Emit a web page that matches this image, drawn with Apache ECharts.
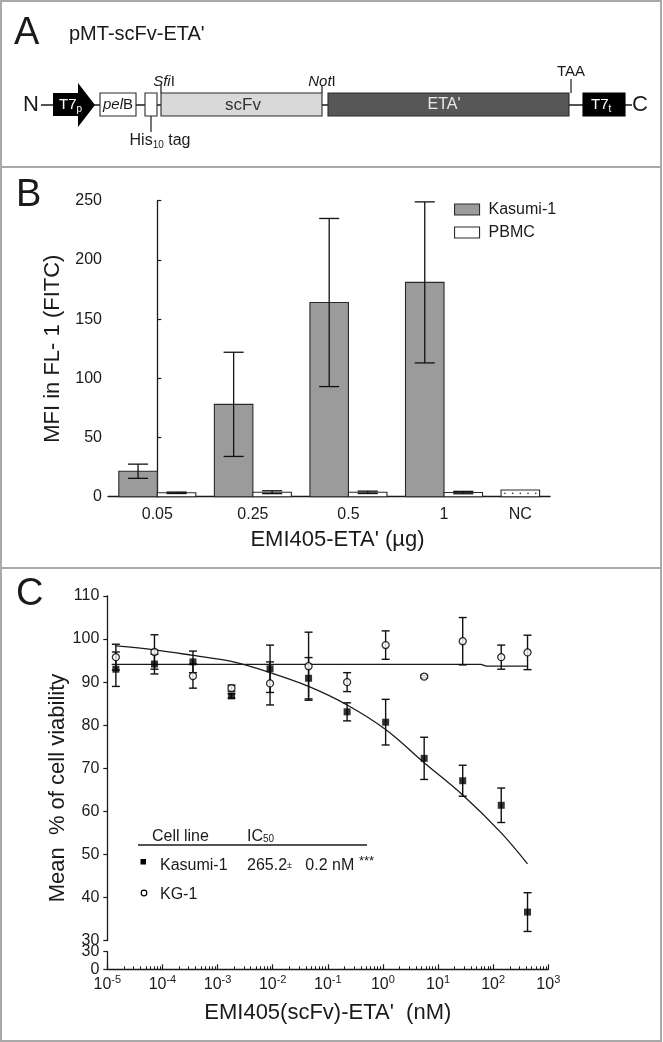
<!DOCTYPE html>
<html><head><meta charset="utf-8">
<script src="https://cdn.jsdelivr.net/npm/echarts@6/dist/echarts.min.js"></script>
<style>html,body{margin:0;padding:0;background:#fff}#c{width:663px;height:1042px}</style>
</head><body><div id="c"></div>
<script>
// ---------------- Panel B data ----------------
const doseLabels = ['0.05', '0.25', '0.5', '1', 'NC'];
const kasumiMFI = [21.5, 78, 164, 181];
const kasumiMFIErr = [6, 44, 71, 68];
const pbmcMFI = [3.3, 3.8, 3.7, 3.5];
const pbmcMFIErr = [0.6, 1.2, 1.0, 1.0];
const ncMFI = [5.7];
const mfiTicks = [0, 50, 100, 150, 200, 250];

// ---------------- Panel C data ----------------
const concNM = [1.43e-5, 7.17e-5, 3.58e-4, 1.79e-3, 8.96e-3, 0.0448, 0.224, 1.12, 5.6, 28, 140, 420];
const kasumiViab = [93.0, 94.2, 94.7, 86.8, 93.1, 90.9, 83.1, 80.7, 72.3, 67.1, 61.4, 36.6];
const kasumiSD = [4.0, 2.3, 2.5, 0.5, 5.5, 4.8, 2.1, 5.3, 4.9, 3.6, 4.0, 4.5];
const kg1Viab = [95.8, 97.0, 91.4, 88.6, 89.7, 93.7, 90.0, 98.6, 91.3, 99.5, 95.8, 96.9];
const kg1SD = [3.0, 4.0, 2.8, 0.7, 5.0, 7.9, 2.2, 3.3, 0.3, 5.5, 2.8, 4.0];
const kasumiFit = [98.4, 97.5, 96.2, 94.8, 92.2, 89.0, 84.7, 79.0, 71.3, 63.8, 55.0, 47.8];
const kg1FitConc = [1.2e-5, 60, 75, 420];
const kg1Fit = [94.1, 94.1, 93.7, 93.7];
const viabTicksUpper = [30, 40, 50, 60, 70, 80, 90, 100, 110];
const viabTicksLower = [0, 30];
const decadeExp = [-5, -4, -3, -2, -1, 0, 1, 2, 3];

// ---------------- styling ----------------
const FF = '"Liberation Sans", Arial, Helvetica, sans-serif';
const INK = '#1a1a1a';
const BAR_W = 0.403, CAP_W = 0.21;

function barRenderer(side, fill, dotted) {
  return function (params, api) {
    const x = api.value(0), v = api.value(1), e = api.value(2);
    const xl = side === 'left' ? x - BAR_W : x;
    const p1 = api.coord([xl, v]);
    const p2 = api.coord([xl + BAR_W, 0]);
    const children = [{
      type: 'rect',
      shape: { x: p1[0], y: p1[1], width: p2[0] - p1[0], height: p2[1] - p1[1] },
      style: { fill: fill, stroke: '#2a2a2a', lineWidth: 1.1 }
    }];
    if (dotted) {
      const my = (p1[1] + p2[1]) / 2;
      for (let k = 0; k < 5; k++) {
        children.push({ type: 'circle', shape: { cx: p1[0] + (p2[0] - p1[0]) * (k + 0.5) / 5, cy: my, r: 0.8 }, style: { fill: '#333' } });
      }
    }
    if (e > 0) {
      const cx = (p1[0] + p2[0]) / 2;
      const hi = api.coord([xl, v + e])[1], lo = api.coord([xl, v - e])[1];
      const hw = api.size([CAP_W, 0])[0] / 2;
      const st = { stroke: '#111', lineWidth: 1.3 };
      children.push({ type: 'line', shape: { x1: cx, y1: hi, x2: cx, y2: lo }, style: st });
      children.push({ type: 'line', shape: { x1: cx - hw, y1: hi, x2: cx + hw, y2: hi }, style: st });
      children.push({ type: 'line', shape: { x1: cx - hw, y1: lo, x2: cx + hw, y2: lo }, style: st });
    }
    return { type: 'group', children: children };
  };
}

function errRenderer(params, api) {
  const x = api.value(0), v = api.value(1), e = api.value(2);
  const hi = api.coord([x, v + e]), lo = api.coord([x, v - e]);
  const hw = 4;
  const st = { stroke: '#111', lineWidth: 1.4 };
  return { type: 'group', children: [
    { type: 'line', shape: { x1: hi[0], y1: hi[1], x2: lo[0], y2: lo[1] }, style: st },
    { type: 'line', shape: { x1: hi[0] - hw, y1: hi[1], x2: hi[0] + hw, y2: hi[1] }, style: st },
    { type: 'line', shape: { x1: lo[0] - hw, y1: lo[1], x2: lo[0] + hw, y2: lo[1] }, style: st }
  ]};
}

// label positions for panel B (NC label sits over its single bar)
const doseLabelPos = doseLabels.map((d, i) => i < 4 ? i : i - BAR_W / 2);

function T(x, y, text, size, extra) {
  return { type: 'text', x: x, y: y, z: 10,
    style: Object.assign({ text: text, fontSize: size, fontFamily: FF, fill: INK, align: 'left', verticalAlign: 'middle' }, extra || {}) };
}
function R(x, y, w, h, fill, stroke) {
  return { type: 'rect', z: 5, shape: { x: x, y: y, width: w, height: h }, style: { fill: fill, stroke: stroke || '#2a2a2a', lineWidth: 1.1 } };
}
function L(x1, y1, x2, y2, w, color, dash) {
  return { type: 'line', z: 4, shape: { x1: x1, y1: y1, x2: x2, y2: y2 }, style: { stroke: color || INK, lineWidth: w || 1.2, lineDash: dash || null } };
}

const graphics = [
  // frame
  { type: 'rect', z: 1, shape: { x: 1, y: 1, width: 660, height: 1040 }, style: { fill: 'none', stroke: '#a9a9a9', lineWidth: 2 } },
  L(1, 167, 661, 167, 2, '#a9a9a9'),
  L(1, 568, 661, 568, 2, '#a9a9a9'),
  // panel letters
  T(14, 34, 'A', 38), T(16, 196, 'B', 38), T(16, 595, 'C', 38),
  // Panel A
  T(69, 34, "pMT-scFv-ETA'", 20),
  L(41, 105, 632, 105, 1.3),
  T(31, 105, 'N', 22, { align: 'center' }),
  { type: 'polygon', z: 5, shape: { points: [[53, 93], [78, 93], [78, 83], [95, 105], [78, 127], [78, 116], [53, 116]] }, style: { fill: '#000' } },
  T(59, 105, '{b|T7}{s|p}', 15, { fill: '#fff', rich: { b: { fontSize: 15, fill: '#fff', verticalAlign: 'middle', fontFamily: FF }, s: { fontSize: 10, fill: '#fff', verticalAlign: 'middle', padding: [9, 0, 0, 0], fontFamily: FF } } }),
  R(100, 93, 36, 23, '#fff'),
  T(118, 105, '{i|pel}{b|B}', 15, { align: 'center', rich: { i: { fontSize: 15, fontStyle: 'italic', verticalAlign: 'middle', fontFamily: FF, fill: INK }, b: { fontSize: 15, verticalAlign: 'middle', fontFamily: FF, fill: INK } } }),
  R(145, 93, 12, 23, '#fff'),
  L(151, 116, 151, 132, 1.2),
  T(160, 141, '{b|His}{s|10}{b| tag}', 16, { align: 'center', rich: { b: { fontSize: 16, verticalAlign: 'middle', fontFamily: FF, fill: INK }, s: { fontSize: 10, verticalAlign: 'middle', padding: [8, 0, 0, 0], fontFamily: FF, fill: INK } } }),
  R(161, 93, 161, 23, '#d9d9d9'),
  T(243, 105, 'scFv', 17, { align: 'center', fill: '#333' }),
  L(161, 85, 161, 93, 1.2),
  T(164, 82, '{i|Sfi}{b|I}', 15, { align: 'center', rich: { i: { fontSize: 15, fontStyle: 'italic', verticalAlign: 'middle', fontFamily: FF, fill: INK }, b: { fontSize: 15, verticalAlign: 'middle', fontFamily: FF, fill: INK } } }),
  L(322, 85, 322, 93, 1.2),
  T(322, 82, '{i|Not}{b|I}', 15, { align: 'center', rich: { i: { fontSize: 15, fontStyle: 'italic', verticalAlign: 'middle', fontFamily: FF, fill: INK }, b: { fontSize: 15, verticalAlign: 'middle', fontFamily: FF, fill: INK } } }),
  R(328, 93, 241, 23, '#575757'),
  T(444, 105, "ETA'", 16, { align: 'center', fill: '#e8e8e8' }),
  L(569.5, 94, 569.5, 115, 1.4, '#ffffff', [2, 2]),
  L(571, 79, 571, 93, 1.2),
  T(571, 72, 'TAA', 15, { align: 'center' }),
  R(583, 93, 42, 23, '#000', '#000'),
  T(591, 105, '{b|T7}{s|t}', 15, { rich: { b: { fontSize: 15, fill: '#fff', verticalAlign: 'middle', fontFamily: FF }, s: { fontSize: 10, fill: '#fff', verticalAlign: 'middle', padding: [9, 0, 0, 0], fontFamily: FF } } }),
  T(640, 105, 'C', 22, { align: 'center' }),
  // Panel C y title
  { type: 'text', x: 58, y: 788, rotation: Math.PI / 2, z: 10, style: { text: 'Mean  % of cell viability', fontSize: 22, fontFamily: FF, fill: INK, align: 'center', verticalAlign: 'middle' } },
  // Panel C inset table
  T(152, 837, 'Cell line', 16),
  T(247, 837, '{b|IC}{s|50}', 16, { rich: { b: { fontSize: 16, verticalAlign: 'middle', fontFamily: FF, fill: INK }, s: { fontSize: 10, verticalAlign: 'middle', padding: [4, 0, 0, 0], fontFamily: FF, fill: INK } } }),
  L(138, 845, 367, 845, 1.3),
  { type: 'rect', z: 6, shape: { x: 140.5, y: 859, width: 5.5, height: 5.5 }, style: { fill: '#000' } },
  T(160, 866, 'Kasumi-1', 16),
  T(247, 866, '{b|265.2}{pm|±}{b|   0.2 nM}', 16, { rich: { b: { fontSize: 16, verticalAlign: 'middle', fontFamily: FF, fill: INK }, pm: { fontSize: 9, verticalAlign: 'middle', fontFamily: FF, fill: INK } } }),
  T(359, 861, '***', 13),
  { type: 'circle', z: 6, shape: { cx: 144, cy: 893, r: 2.8 }, style: { fill: '#fff', stroke: '#000', lineWidth: 1.2 } },
  T(160, 895, 'KG-1', 16)
];

const axisLineStyle = { color: INK, width: 1.3 };
const tickLabel = { color: INK, fontSize: 16, fontFamily: FF };

const option = {
  animation: false,
  backgroundColor: '#fff',
  textStyle: { fontFamily: FF },
  grid: [
    { left: 108, right: 113, top: 200.7, bottom: 545.3, containLabel: false, outerBoundsMode: 'none' },
    { left: 107.3, right: 114.7, top: 596, bottom: 101.5, containLabel: false, outerBoundsMode: 'none' },
    { left: 107.3, right: 114.7, top: 951.7, bottom: 72.7, containLabel: false, outerBoundsMode: 'none' }
  ],
  xAxis: [
    { type: 'value', gridIndex: 0, min: -0.516, max: 4.109,
      axisLine: { show: true, lineStyle: axisLineStyle }, axisTick: { show: false }, splitLine: { show: false },
      axisLabel: Object.assign({ margin: 10, customValues: doseLabelPos,
        formatter: function (v) { let best = 0; doseLabelPos.forEach((p, i) => { if (Math.abs(p - v) < Math.abs(doseLabelPos[best] - v)) best = i; }); return doseLabels[best]; } }, tickLabel),
      name: "EMI405-ETA' (µg)", nameLocation: 'middle', nameGap: 32,
      nameTextStyle: { fontSize: 22, color: INK, fontFamily: FF, padding: [0, 0, 0, 17] } },
    { type: 'log', gridIndex: 1, logBase: 10, min: 1e-5, max: 1e3, show: false },
    { type: 'log', gridIndex: 2, logBase: 10, min: 1e-5, max: 1e3, splitNumber: 8,
      axisLine: { show: true, lineStyle: axisLineStyle },
      axisTick: { show: true, inside: true, length: 5, lineStyle: { color: INK, width: 1.2 } },
      minorTick: { show: true, splitNumber: 9, length: 3, lineStyle: { color: INK, width: 1 } },
      splitLine: { show: false }, minorSplitLine: { show: false },
      axisLabel: { margin: 5, color: INK, fontFamily: FF,
        formatter: function (v) { const e = Math.round(Math.log10(v)); return decadeExp.indexOf(e) >= 0 ? '{b|10}{p|' + e + '}' : ''; },
        rich: { b: { fontSize: 16, color: INK, fontFamily: FF, verticalAlign: 'middle' }, p: { fontSize: 11, color: INK, fontFamily: FF, verticalAlign: 'middle', padding: [0, 0, 9, 0] } } },
      name: "EMI405(scFv)-ETA'  (nM)", nameLocation: 'middle', nameGap: 33,
      nameTextStyle: { fontSize: 22, color: INK, fontFamily: FF } }
  ],
  yAxis: [
    { type: 'value', gridIndex: 0, min: mfiTicks[0], max: mfiTicks[mfiTicks.length - 1], interval: mfiTicks[1] - mfiTicks[0],
      axisLine: { show: true, lineStyle: axisLineStyle },
      axisTick: { show: true, inside: true, length: 4, lineStyle: { color: INK, width: 1.2 } },
      splitLine: { show: false },
      axisLabel: Object.assign({ margin: 6 }, tickLabel),
      name: 'MFI in FL- 1 (FITC)', nameLocation: 'middle', nameGap: 37, nameRotate: 90,
      nameTextStyle: { fontSize: 22, color: INK, fontFamily: FF } },
    { type: 'value', gridIndex: 1, min: viabTicksUpper[0], max: viabTicksUpper[viabTicksUpper.length - 1], interval: viabTicksUpper[1] - viabTicksUpper[0],
      axisLine: { show: true, lineStyle: axisLineStyle },
      axisTick: { show: true, inside: false, length: 4, lineStyle: { color: INK, width: 1.2 } },
      splitLine: { show: false },
      axisLabel: Object.assign({ margin: 8 }, tickLabel) },
    { type: 'value', gridIndex: 2, min: viabTicksLower[0], max: viabTicksLower[1], interval: viabTicksLower[1] - viabTicksLower[0],
      axisLine: { show: true, lineStyle: axisLineStyle },
      axisTick: { show: true, inside: false, length: 4, lineStyle: { color: INK, width: 1.2 } },
      splitLine: { show: false },
      axisLabel: Object.assign({ margin: 8 }, tickLabel) }
  ],
  legend: [{
    orient: 'vertical', left: 449, top: 196.5, itemWidth: 25, itemHeight: 11, itemGap: 7, selectedMode: false,
    textStyle: { fontSize: 16, color: INK, fontFamily: FF, padding: [0, 0, 0, 4] },
    data: [
      { name: 'Kasumi-1', icon: 'rect', itemStyle: { color: '#9b9b9b', borderColor: '#2a2a2a', borderWidth: 1.1 } },
      { name: 'PBMC', icon: 'rect', itemStyle: { color: '#ffffff', borderColor: '#2a2a2a', borderWidth: 1.1 } }
    ]
  }],
  graphic: { elements: graphics },
  series: [
    { name: 'Kasumi-1', type: 'custom', xAxisIndex: 0, yAxisIndex: 0, itemStyle: { color: '#9b9b9b' },
      dimensions: ['x', 'y', 'err'], encode: { x: 0, y: 1 },
      data: kasumiMFI.map((v, i) => [i, v, kasumiMFIErr[i]]), renderItem: barRenderer('left', '#9b9b9b', false) },
    { name: 'PBMC', type: 'custom', xAxisIndex: 0, yAxisIndex: 0, itemStyle: { color: '#ffffff' },
      dimensions: ['x', 'y', 'err'], encode: { x: 0, y: 1 },
      data: pbmcMFI.map((v, i) => [i, v, pbmcMFIErr[i]]), renderItem: barRenderer('right', '#ffffff', false) },
    { name: 'NC', type: 'custom', xAxisIndex: 0, yAxisIndex: 0,
      dimensions: ['x', 'y', 'err'], encode: { x: 0, y: 1 },
      data: ncMFI.map((v) => [4, v, 0]), renderItem: barRenderer('left', '#ffffff', true) },
    // Panel C fits
    { name: 'Kasumi-1 fit', type: 'line', xAxisIndex: 1, yAxisIndex: 1, smooth: 0.35, symbol: 'none', z: 2,
      lineStyle: { color: INK, width: 1.3 }, data: concNM.map((c, i) => [c, kasumiFit[i]]) },
    { name: 'KG-1 fit', type: 'line', xAxisIndex: 1, yAxisIndex: 1, symbol: 'none', z: 2,
      lineStyle: { color: INK, width: 1.3 }, data: kg1FitConc.map((c, i) => [c, kg1Fit[i]]) },
    // error bars
    { name: 'Kasumi-1 SD', type: 'custom', xAxisIndex: 1, yAxisIndex: 1, z: 3,
      dimensions: ['x', 'y', 'err'], encode: { x: 0, y: 1 },
      data: concNM.map((c, i) => [c, kasumiViab[i], kasumiSD[i]]), renderItem: errRenderer },
    { name: 'KG-1 SD', type: 'custom', xAxisIndex: 1, yAxisIndex: 1, z: 3,
      dimensions: ['x', 'y', 'err'], encode: { x: 0, y: 1 },
      data: concNM.map((c, i) => [c, kg1Viab[i], kg1SD[i]]), renderItem: errRenderer },
    // markers
    { name: 'KG-1', type: 'scatter', xAxisIndex: 1, yAxisIndex: 1, symbol: 'circle', symbolSize: 7, z: 4,
      itemStyle: { color: '#fff', borderColor: '#000', borderWidth: 1.3 },
      data: concNM.map((c, i) => [c, kg1Viab[i]]) },
    { name: 'Kasumi-1 ', type: 'scatter', xAxisIndex: 1, yAxisIndex: 1, symbol: 'rect', symbolSize: 7, z: 5,
      itemStyle: { color: '#000' },
      data: concNM.map((c, i) => [c, kasumiViab[i]]) }
  ]
};

const chart = echarts.init(document.getElementById('c'), null, { renderer: 'canvas', width: 663, height: 1042 });
chart.setOption(option);
</script>
</body></html>
